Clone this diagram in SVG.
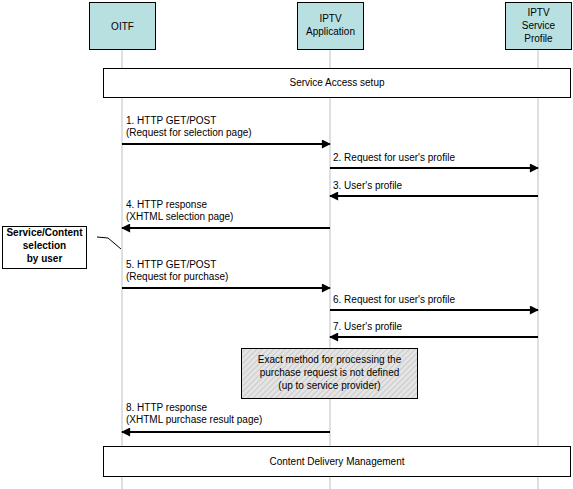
<svg xmlns="http://www.w3.org/2000/svg" width="573" height="489" viewBox="0 0 573 489">
  <style>
    text { font-family: "Liberation Sans", Arial, sans-serif; font-size: 10px; fill: #000; }
    .actor { fill: #b9e0e0; stroke: #000; stroke-width: 1; }
    .frame { fill: #fff; stroke: #000; stroke-width: 1; }
    .life { stroke: #c0c0c0; stroke-width: 1; }
    .msg { stroke: #000; stroke-width: 2; fill: none; }
    .mid { text-anchor: middle; }
    .bold { font-weight: bold; }
  </style>
  <defs>
    <marker id="head" viewBox="0 0 10 10" refX="9" refY="5" markerWidth="5" markerHeight="4.5" orient="auto" markerUnits="strokeWidth">
      <path d="M0,0 L10,5 L0,10 Z" fill="#000"/>
    </marker>
    <pattern id="hatch" width="4" height="4" patternUnits="userSpaceOnUse" patternTransform="rotate(45)">
      <rect width="4" height="4" fill="#e4e4e4"/>
      <line x1="0" y1="0" x2="0" y2="4" stroke="#b0b0b0" stroke-width="1"/>
    </pattern>
  </defs>

  <rect width="573" height="489" fill="#fff"/>

  <!-- lifelines -->
  <g id="lifelines">
    <line class="life" x1="122" y1="49" x2="122" y2="489"/>
    <line class="life" x1="330" y1="49" x2="330" y2="489"/>
    <line class="life" x1="538" y1="49" x2="538" y2="489"/>
  </g>

  <g id="oitf">
    <rect class="actor" x="89.5" y="2.5" width="66" height="47"/>
    <text class="mid" x="122.5" y="30" font-size="11">OITF</text>
  </g>
  <g id="iptv-application">
    <rect class="actor" x="297.5" y="2.5" width="66" height="47"/>
    <text class="mid" x="330.5" y="22" font-size="11">IPTV</text>
    <text class="mid" x="330.5" y="35" font-size="11">Application</text>
  </g>
  <g id="iptv-service-profile">
    <rect class="actor" x="505.5" y="2.5" width="66" height="47"/>
    <text class="mid" x="538.5" y="16" font-size="11">IPTV</text>
    <text class="mid" x="538.5" y="29" font-size="11">Service</text>
    <text class="mid" x="538.5" y="42" font-size="11">Profile</text>
  </g>

  <g id="service-access-setup">
    <rect class="frame" x="103.5" y="68.5" width="467" height="29"/>
    <text class="mid" x="337" y="86">Service Access setup</text>
  </g>

  <g id="user-selection">
    <rect class="frame" x="2.5" y="226.5" width="84" height="42"/>
    <text class="mid bold" x="44.5" y="236">Service/Content</text>
    <text class="mid bold" x="44.5" y="249">selection</text>
    <text class="mid bold" x="44.5" y="262">by user</text>
  </g>

  <g id="processing-note">
    <rect x="241.5" y="348.5" width="176" height="50" fill="url(#hatch)" stroke="#000" stroke-width="1"/>
    <text class="mid" x="329.5" y="363">Exact method for processing the</text>
    <text class="mid" x="329.5" y="376">purchase request is not defined</text>
    <text class="mid" x="329.5" y="389">(up to service provider)</text>
  </g>

  <g id="content-delivery-management">
    <rect class="frame" x="103.5" y="446.5" width="467" height="30"/>
    <text class="mid" x="337" y="465">Content Delivery Management</text>
  </g>

  <!-- messages -->
  <g id="connectors">
    <line class="msg" x1="122" y1="144" x2="330" y2="144" marker-end="url(#head)"/>
    <line class="msg" x1="330" y1="168" x2="538" y2="168" marker-end="url(#head)"/>
    <line class="msg" x1="538" y1="196" x2="330" y2="196" marker-end="url(#head)"/>
    <line class="msg" x1="330" y1="228" x2="122" y2="228" marker-end="url(#head)"/>
    <line class="msg" x1="122" y1="288" x2="330" y2="288" marker-end="url(#head)"/>
    <line class="msg" x1="330" y1="310" x2="538" y2="310" marker-end="url(#head)"/>
    <line class="msg" x1="538" y1="337" x2="330" y2="337" marker-end="url(#head)"/>
    <line class="msg" x1="330" y1="432" x2="122" y2="432" marker-end="url(#head)"/>
    <line x1="97" y1="237" x2="108" y2="238" stroke="#000" stroke-width="1"/>
    <line x1="108" y1="238" x2="121" y2="249" stroke="#000" stroke-width="1"/>
  </g>

  <g id="labels">
    <text x="126" y="124">1. HTTP GET/POST</text>
    <text x="126" y="136">(Request for selection page)</text>
    <text x="333" y="161">2. Request for user's profile</text>
    <text x="333" y="189">3. User's profile</text>
    <text x="126" y="208">4. HTTP response</text>
    <text x="126" y="220">(XHTML selection page)</text>
    <text x="126" y="268">5. HTTP GET/POST</text>
    <text x="126" y="280">(Request for purchase)</text>
    <text x="333" y="303">6. Request for user's profile</text>
    <text x="333" y="330">7. User's profile</text>
    <text x="126" y="411">8. HTTP response</text>
    <text x="126" y="423">(XHTML purchase result page)</text>
  </g>
</svg>
